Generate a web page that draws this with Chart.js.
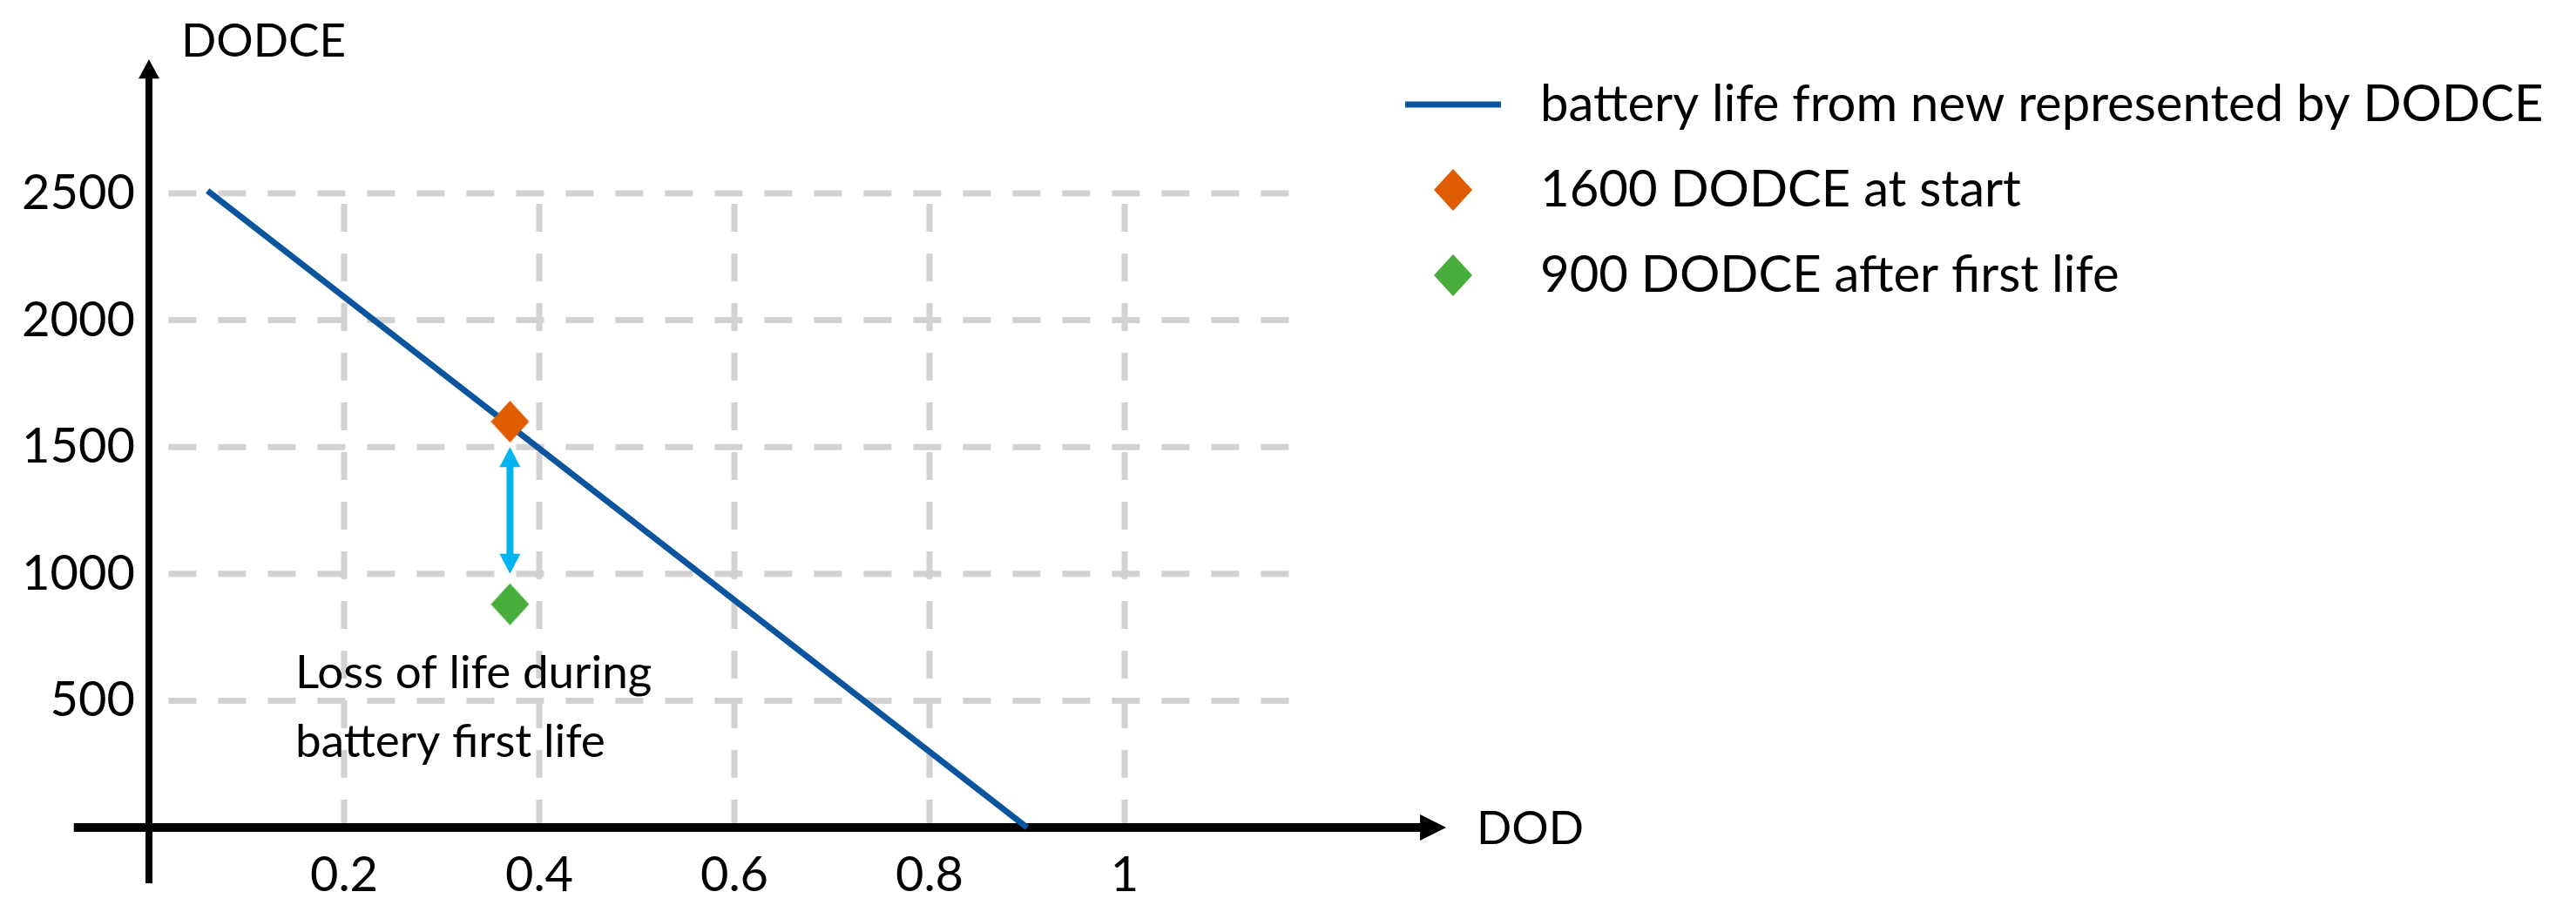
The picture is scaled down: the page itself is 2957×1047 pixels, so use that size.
<!DOCTYPE html>
<html>
<head>
<meta charset="utf-8">
<title>Battery life vs DOD</title>
<script src="https://cdn.jsdelivr.net/npm/chart.js@4/dist/chart.umd.min.js"></script>
<style>
    body { margin: 0; background: #ffffff; }
    #wrap { position: relative; width: 2957px; height: 1047px; }
</style>
</head>
<body>
<div id="wrap"><canvas id="lifeChart"></canvas></div>
<script>
// Series names
const seriesNames = [
    'battery life from new represented by DODCE',
    '1600 DODCE at start',
    '900 DODCE after first life'
];

// Battery life line (DOD -> DODCE)
const lifeDod = [0.06, 0.9];
const lifeDodce = [2510, 0];

// Single markers
const startDod = [0.37];
const startDodce = [1600];
const afterDod = [0.37];
const afterDodce = [880];

// Loss-of-life arrow
const lossDod = 0.37;
const lossFrom = 1500;
const lossTo = 1000;
const noteLines = ['Loss of life during', 'battery first life'];

// Ticks
const xTicks = [0.2, 0.4, 0.6, 0.8, 1];
const xTickLabels = ['0.2', '0.4', '0.6', '0.8', '1'];
const yTicks = [500, 1000, 1500, 2000, 2500];
const yTickLabels = ['500', '1000', '1500', '2000', '2500'];

// Colours
const lineBlue = '#0B549E';
const startOrange = '#E05C00';
const afterGreen = '#47AE3C';
const arrowCyan = '#00B4F0';
const gridGrey = '#D3D1D3';

const FONT = 'Lato';
const FONT_SIZE = 56;
const TEXT_SIZE = 53;
const LEGEND_SIZE = 58;
const plotRight = 1557;
const padding = { top: 51, right: 0, bottom: 0, left: 0 };

Chart.defaults.font.family = FONT;
Chart.defaults.font.size = FONT_SIZE;
Chart.defaults.color = '#000000';

// Small images used as point styles (plot + legend)
function diamondImage(color) {
    const c = document.createElement('canvas');
    c.width = 44;
    c.height = 48;
    const g = c.getContext('2d');
    g.fillStyle = color;
    g.beginPath();
    g.moveTo(22, 0);
    g.lineTo(44, 24);
    g.lineTo(22, 48);
    g.lineTo(0, 24);
    g.closePath();
    g.fill();
    return c;
}

function lineImage(color) {
    const c = document.createElement('canvas');
    c.width = 142;
    c.height = 8;
    const g = c.getContext('2d');
    g.fillStyle = color;
    g.fillRect(16, 0.5, 110, 7);
    return c;
}

function arrowHead(ctx, tipX, tipY, dx, dy, len, half) {
    const bx = tipX - dx * len;
    const by = tipY - dy * len;
    ctx.beginPath();
    ctx.moveTo(tipX, tipY);
    ctx.lineTo(bx - dy * half, by + dx * half);
    ctx.lineTo(bx + dy * half, by - dx * half);
    ctx.closePath();
    ctx.fill();
}

// Hand-drawn look: dashed grid, arrow axes, labels, loss arrow and note
const sketchPlugin = {
    id: 'sketch',
    beforeDatasetsDraw(chart) {
        const { ctx, scales: { x, y } } = chart;
        ctx.save();

        // dashed grid
        ctx.strokeStyle = gridGrey;
        ctx.lineWidth = 7;
        ctx.setLineDash([32, 25]);
        yTicks.forEach(v => {
            const py = y.getPixelForValue(v);
            ctx.beginPath();
            ctx.moveTo(x.getPixelForValue(0.02), py);
            ctx.lineTo(x.getPixelForValue(1.17), py);
            ctx.stroke();
        });
        xTicks.forEach(v => {
            const px = x.getPixelForValue(v);
            ctx.beginPath();
            ctx.moveTo(px, y.getPixelForValue(Math.max(...yTicks)) + 12);
            ctx.lineTo(px, y.getPixelForValue(0));
            ctx.stroke();
        });
        ctx.setLineDash([]);

        // axes with arrow heads
        const ax = x.getPixelForValue(0);
        const ay = y.getPixelForValue(0);
        const yTop = y.getPixelForValue(3028);
        const xEnd = x.getPixelForValue(1.3295);
        ctx.strokeStyle = '#000000';
        ctx.fillStyle = '#000000';
        ctx.lineWidth = 8;
        ctx.beginPath();
        ctx.moveTo(ax, y.getPixelForValue(-220));
        ctx.lineTo(ax, yTop + 20);
        ctx.stroke();
        arrowHead(ctx, ax, yTop, 0, -1, 22, 12);

        ctx.lineWidth = 10;
        ctx.beginPath();
        ctx.moveTo(x.getPixelForValue(-0.077), ay);
        ctx.lineTo(xEnd - 28, ay);
        ctx.stroke();
        arrowHead(ctx, xEnd, ay, 1, 0, 30, 15);

        // axis names
        ctx.font = `${TEXT_SIZE}px ${FONT}`;
        ctx.textAlign = 'left';
        ctx.textBaseline = 'alphabetic';
        ctx.fillText('DODCE', ax + 37, yTop - 3);
        ctx.fillText('DOD', xEnd + 35, ay + 19);
        ctx.restore();
    },
    afterDatasetsDraw(chart) {
        const { ctx, scales: { x, y } } = chart;
        ctx.save();

        // double arrow for the loss of life
        const px = x.getPixelForValue(lossDod);
        const top = y.getPixelForValue(lossFrom);
        const bottom = y.getPixelForValue(lossTo);
        ctx.strokeStyle = arrowCyan;
        ctx.fillStyle = arrowCyan;
        ctx.lineWidth = 8;
        ctx.beginPath();
        ctx.moveTo(px, top + 20);
        ctx.lineTo(px, bottom - 20);
        ctx.stroke();
        arrowHead(ctx, px, top, 0, -1, 23, 12);
        arrowHead(ctx, px, bottom, 0, 1, 23, 12);

        // note text
        ctx.fillStyle = '#000000';
        ctx.font = `${TEXT_SIZE}px ${FONT}`;
        ctx.textAlign = 'left';
        ctx.textBaseline = 'alphabetic';
        const nx = x.getPixelForValue(0.15);
        const ny = y.getPixelForValue(550);
        noteLines.forEach((t, i) => ctx.fillText(t, nx, ny + i * 79));
        ctx.restore();
    }
};

function createLifeChart() {
    const ctx = document.getElementById('lifeChart');

    const chart = new Chart(ctx, {
        type: 'scatter',
        data: {
            datasets: [
                {
                    label: seriesNames[0],
                    data: lifeDod.map((d, i) => ({ x: d, y: lifeDodce[i] })),
                    showLine: true,
                    borderColor: lineBlue,
                    borderWidth: 7,
                    pointRadius: 0,
                    pointStyle: lineImage(lineBlue),
                    clip: false,
                    order: 3
                },
                {
                    label: seriesNames[1],
                    data: startDod.map((d, i) => ({ x: d, y: startDodce[i] })),
                    pointStyle: diamondImage(startOrange),
                    pointRadius: 23,
                    backgroundColor: startOrange,
                    borderColor: startOrange,
                    order: 1
                },
                {
                    label: seriesNames[2],
                    data: afterDod.map((d, i) => ({ x: d, y: afterDodce[i] })),
                    pointStyle: diamondImage(afterGreen),
                    pointRadius: 23,
                    backgroundColor: afterGreen,
                    borderColor: afterGreen,
                    order: 2
                }
            ]
        },
        options: {
            responsive: true,
            maintainAspectRatio: false,
            animation: false,
            events: [],
            layout: { padding: padding },
            scales: {
                x: {
                    type: 'linear',
                    min: 0,
                    max: 1.2375,
                    afterBuildTicks: s => { s.ticks = xTicks.map(v => ({ value: v })); },
                    afterFit: s => { s.height = 97; },
                    grid: { display: false, drawTicks: false },
                    border: { display: false },
                    ticks: {
                        padding: 21,
                        maxRotation: 0,
                        callback: (v, i) => xTickLabels[i]
                    }
                },
                y: {
                    type: 'linear',
                    min: 0,
                    max: 3087,
                    afterBuildTicks: s => { s.ticks = yTicks.map(v => ({ value: v })); },
                    afterFit: s => { s.width = 171; },
                    grid: { display: false, drawTicks: false },
                    border: { display: false },
                    ticks: {
                        padding: 16,
                        callback: (v, i) => yTickLabels[i]
                    }
                }
            },
            plugins: {
                tooltip: { enabled: false },
                legend: {
                    position: 'right',
                    align: 'start',
                    maxWidth: 1600,
                    labels: {
                        usePointStyle: true,
                        pointStyleWidth: 142,
                        padding: 40,
                        color: '#000000',
                        font: { family: FONT, size: LEGEND_SIZE },
                        sort: (a, b) => a.datasetIndex - b.datasetIndex
                    }
                }
            }
        },
        plugins: [sketchPlugin]
    });

    // keep the legend where the plot ends
    const over = chart.chartArea.right - plotRight;
    if (Math.abs(over) > 0.5) {
        padding.right += over;
        chart.update();
    }
}

document.addEventListener('DOMContentLoaded', createLifeChart);
</script>
</body>
</html>
